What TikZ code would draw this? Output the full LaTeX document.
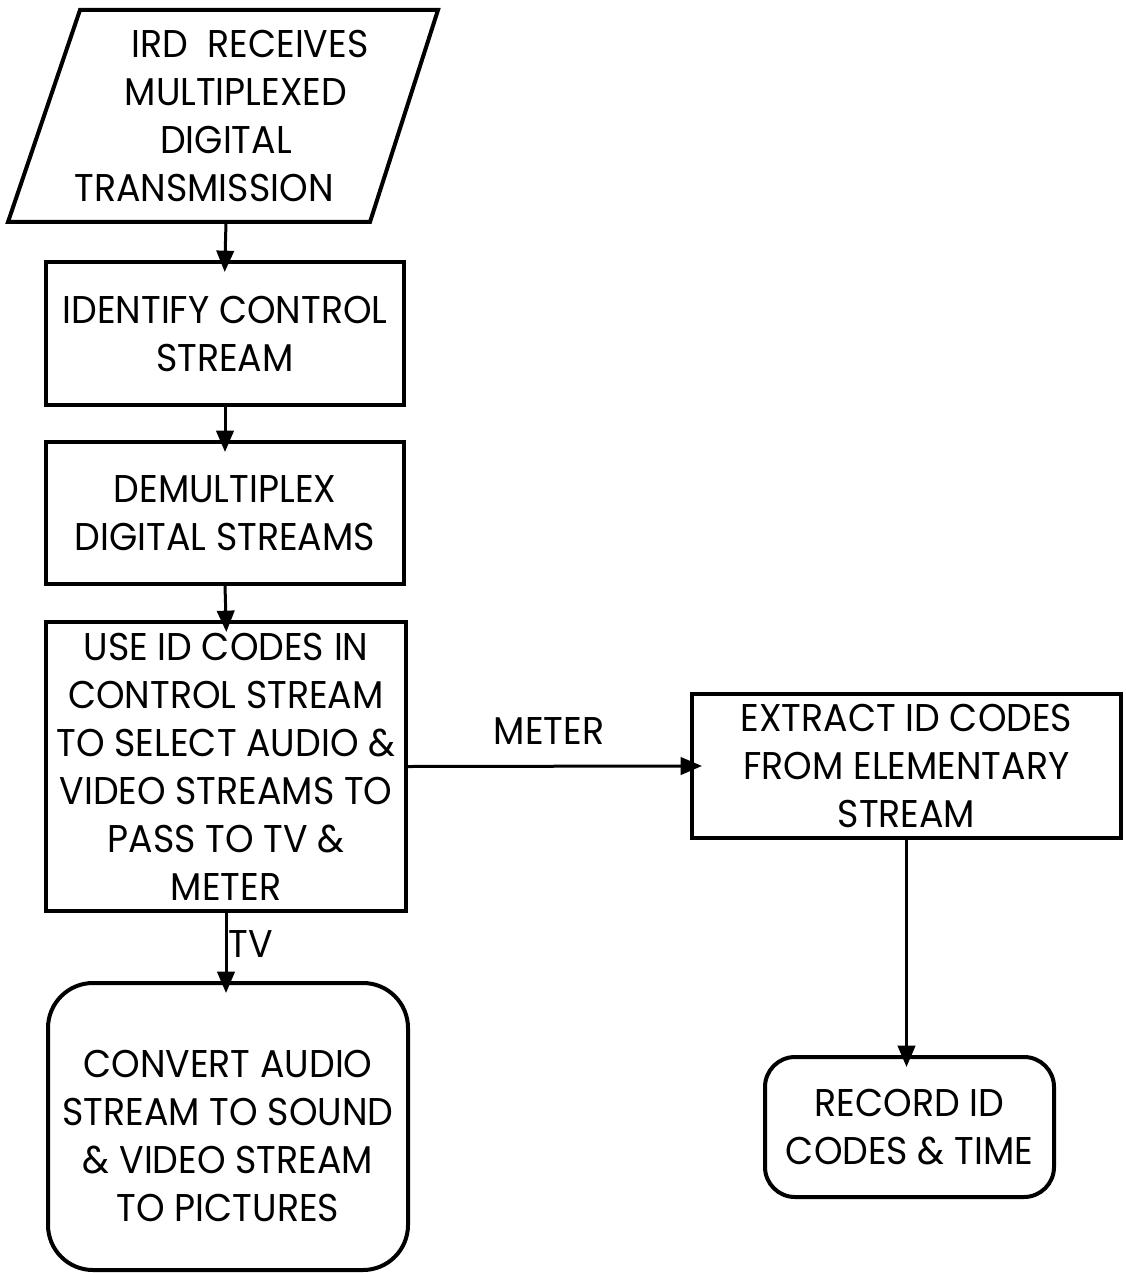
\documentclass[tikz,border=0pt]{standalone}
\usepackage{fontspec}
\setmainfont[FakeStretch=0.94]{Poppins}
\usetikzlibrary{arrows.meta}
\begin{document}
\begin{tikzpicture}[x=0.75pt,y=-0.75pt,
  every node/.style={font=\fontsize{29}{36}\selectfont, inner sep=0pt},
  procbox/.style={draw, line width=3pt, align=center},
  roundbox/.style={draw, line width=3pt, align=center, rounded corners=#1},
  flow/.style={line width=2.25pt, -{Triangle[length=16pt,width=13pt]}, shorten >=-9pt},
  lbl/.style={anchor=center}]
\useasboundingbox (0,0) rectangle (1126,1273);
\fill[white] (0,0) rectangle (1126,1273);

% input parallelogram
\draw[line width=3pt, line join=miter] (80,10) -- (438,10) -- (370,222) -- (8,222) -- cycle;
\node[minimum height=159pt, align=center] (ird) at (226,116)
  {\hspace*{36pt}IRD\ \ RECEIVES\\ \hspace*{15pt}MULTIPLEXED\\ DIGITAL\hspace*{9pt}\\ TRANSMISSION\hspace*{33pt}};

\node[procbox, minimum width=268.5pt, minimum height=107.25pt] (ident) at (225,333.5)
  {IDENTIFY CONTROL\\ STREAM};
\node[procbox, minimum width=268.5pt, minimum height=106.5pt] (demux) at (225,513)
  {DEMULTIPLEX\\ DIGITAL STREAMS};
\node[procbox, minimum width=270pt, minimum height=216.75pt] (use) at (226,766.5)
  {USE ID CODES IN\\ CONTROL STREAM\\ TO SELECT AUDIO \&\\ VIDEO STREAMS TO\\ PASS TO TV \&\\ METER};
\node[procbox, minimum width=321.75pt, minimum height=108pt] (extract) at (906.5,766)
  {EXTRACT ID CODES\\ FROM ELEMENTARY\\ STREAM};
\node[roundbox=33.75pt, minimum width=270pt, minimum height=215.25pt] (conv) at (228,1126.5)
  {\mbox{}\\[-1pt]CONVERT AUDIO\\ STREAM TO SOUND\\ \& VIDEO STREAM\\ TO PICTURES};
\node[roundbox=22.5pt, minimum width=216.75pt, minimum height=105pt] (rec) at (909.5,1127)
  {RECORD ID\\ CODES \& TIME};

\draw[flow] (ird.south) -- (ident.north);
\draw[flow] (ident.south) -- (demux.north);
\draw[flow] (demux.south) -- (use.north);
\draw[flow] (use.east) -- (extract.west);
\draw[flow] (use.south) -- (use.south |- conv.north);
\draw[flow] (extract.south) -- (extract.south |- rec.north);

\node[lbl] (meterlbl) at (549,731) {METER};
\node[lbl] (tvlbl) at (251,944) {TV};
\end{tikzpicture}
\end{document}
